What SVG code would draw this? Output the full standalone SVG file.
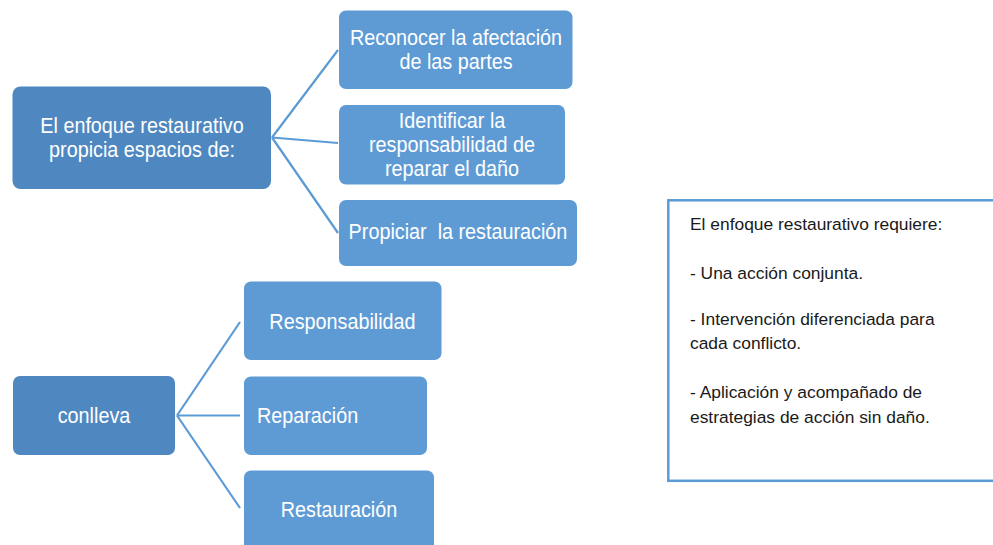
<svg xmlns="http://www.w3.org/2000/svg" width="993" height="545" viewBox="0 0 993 545">
<style>
.main{fill:#4f88c0}
.child{fill:#5e9bd5}
.t{font-family:"Liberation Sans",Arial,sans-serif;font-size:22px;fill:#ffffff}
.c{text-anchor:middle}
.conn line{stroke:#5b9bd5;stroke-width:2.2;fill:none}
.note{fill:#ffffff;stroke:#5b9bd5;stroke-width:2.5}
.n{font-family:"Liberation Sans",Arial,sans-serif;font-size:17.4px;fill:#1a1a1a}
</style>
<rect width="993" height="545" fill="#ffffff"/>
<g id="connectors" class="conn">
<line x1="272" y1="137.5" x2="338" y2="50"/>
<line x1="272" y1="137.5" x2="338" y2="143"/>
<line x1="272" y1="137.5" x2="338" y2="233"/>
<line x1="177" y1="415.5" x2="240" y2="322"/>
<line x1="177" y1="415.5" x2="240" y2="415.5"/>
<line x1="177" y1="415.5" x2="240" y2="508"/>
</g>
<g id="node-enfoque">
<rect class="main" x="12.5" y="86.5" width="258.5" height="102.5" rx="8"/>
<g transform="translate(142,0) scale(0.9,1)">
<text class="t c" x="0" y="133">El enfoque restaurativo</text>
<text class="t c" x="0" y="157">propicia espacios de:</text>
</g>
</g>
<g id="node-reconocer">
<rect class="child" x="339" y="10.5" width="233.5" height="78.5" rx="7"/>
<g transform="translate(456,0) scale(0.9,1)">
<text class="t c" x="0" y="45">Reconocer la afectación</text>
<text class="t c" x="0" y="69">de las partes</text>
</g>
</g>
<g id="node-identificar">
<rect class="child" x="339" y="105" width="226" height="79.5" rx="7"/>
<g transform="translate(452,0) scale(0.9,1)">
<text class="t c" x="0" y="128">Identificar la</text>
<text class="t c" x="0" y="152">responsabilidad de</text>
<text class="t c" x="0" y="176">reparar el daño</text>
</g>
</g>
<g id="node-propiciar">
<rect class="child" x="339" y="200" width="238" height="66" rx="7"/>
<g transform="translate(458,0) scale(0.9,1)">
<text class="t c" x="0" y="239">Propiciar&#160; la restauración</text>
</g>
</g>
<g id="node-conlleva">
<rect class="main" x="13" y="376" width="162" height="79" rx="7"/>
<g transform="translate(94,0) scale(0.9,1)">
<text class="t c" x="0" y="423">conlleva</text>
</g>
</g>
<g id="node-responsabilidad">
<rect class="child" x="244" y="281.5" width="197.5" height="78.5" rx="7"/>
<g transform="translate(342.5,0) scale(0.9,1)">
<text class="t c" x="0" y="329">Responsabilidad</text>
</g>
</g>
<g id="node-reparacion">
<rect class="child" x="244" y="376.5" width="183" height="78.5" rx="7"/>
<g transform="translate(257,0) scale(0.9,1)">
<text class="t" x="0" y="423">Reparación</text>
</g>
</g>
<g id="node-restauracion">
<rect class="child" x="244" y="470.5" width="190" height="90" rx="7"/>
<g transform="translate(339,0) scale(0.9,1)">
<text class="t c" x="0" y="517">Restauración</text>
</g>
</g>
<g id="note">
<rect class="note" x="668.3" y="200.3" width="340" height="280.5"/>
<text class="n" x="690" y="230">El enfoque restaurativo requiere:</text>
<text class="n" x="690" y="279">- Una acción conjunta.</text>
<text class="n" x="690" y="325">- Intervención diferenciada para</text>
<text class="n" x="690" y="349">cada conflicto.</text>
<text class="n" x="690" y="398">- Aplicación y acompañado de</text>
<text class="n" x="690" y="423">estrategias de acción sin daño.</text>
</g>
</svg>
